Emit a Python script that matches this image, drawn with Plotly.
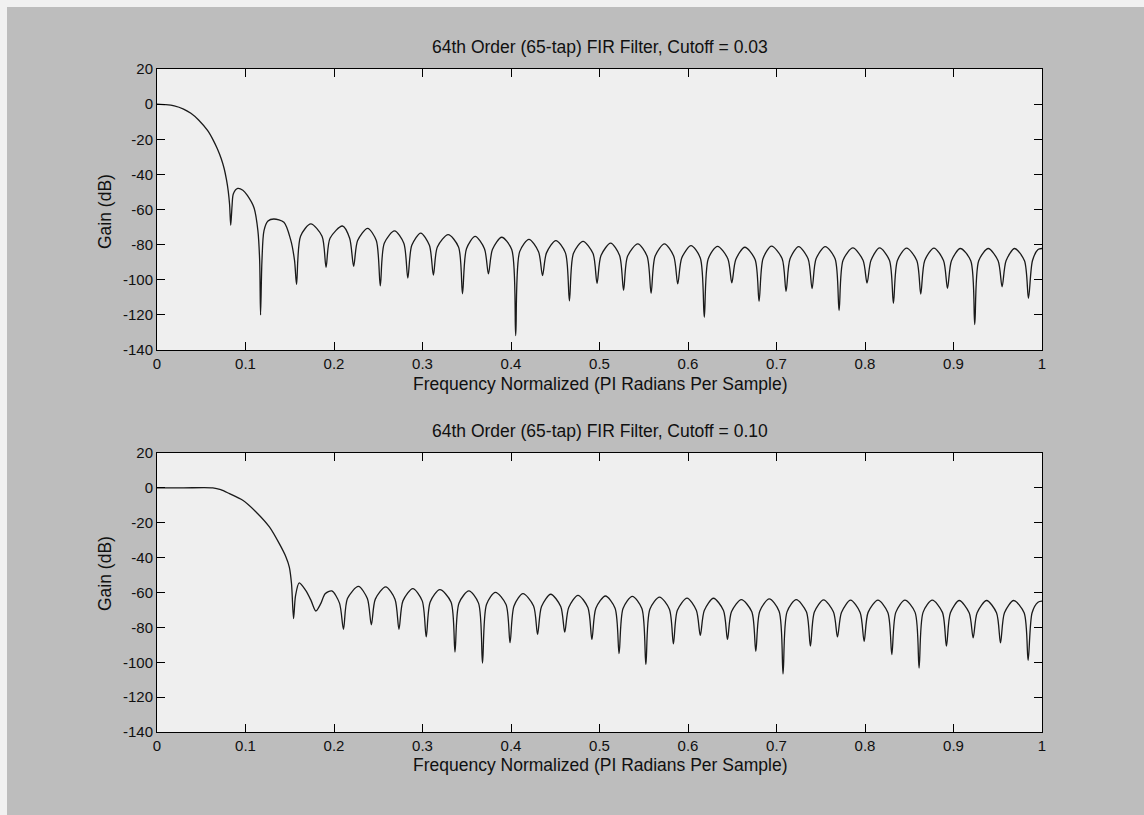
import plotly.graph_objects as go

# ---------------- data ----------------
freq_top = [
    0.0, 0.01, 0.0195, 0.03, 0.0383, 0.047, 0.0571, 0.0635, 0.0683, 0.0725, 0.0758, 0.0785, 0.0805, 0.082, 0.0833,
    0.0848, 0.0863, 0.0912, 0.097, 0.1021, 0.1096, 0.114, 0.116, 0.117,
    0.1186, 0.1209, 0.1254, 0.132, 0.1434, 0.1509, 0.1554, 0.1577,
    0.1622, 0.1738, 0.1865, 0.191,
    0.1955, 0.2095, 0.2177, 0.2222,
    0.2267, 0.238, 0.2478, 0.2523,
    0.2568, 0.2684, 0.2789, 0.2834,
    0.2879, 0.298, 0.3078, 0.3123,
    0.3168, 0.329, 0.3407, 0.3452,
    0.3497, 0.3595, 0.37, 0.3745,
    0.379, 0.3895, 0.4008, 0.4053,
    0.4098, 0.4203, 0.4311, 0.4356,
    0.4401, 0.4507, 0.4615, 0.466,
    0.4705, 0.4814, 0.4927, 0.4972,
    0.5017, 0.5126, 0.5227, 0.5272,
    0.5317, 0.5433, 0.5538, 0.5583,
    0.5628, 0.5734, 0.5839, 0.5884,
    0.5929, 0.6034, 0.6139, 0.6184,
    0.6229, 0.6334, 0.645, 0.6495,
    0.654, 0.6642, 0.6758, 0.6803,
    0.6848, 0.6944, 0.7063, 0.7108,
    0.7153, 0.725, 0.7357, 0.7402,
    0.7447, 0.7551, 0.7662, 0.7707,
    0.7752, 0.7863, 0.7978, 0.8023,
    0.8068, 0.8165, 0.8276, 0.8321,
    0.8366, 0.847, 0.8585, 0.863,
    0.8675, 0.8779, 0.8887, 0.8932,
    0.8977, 0.9077, 0.9195, 0.924,
    0.9285, 0.9393, 0.9504, 0.9549,
    0.9594, 0.9691, 0.9802, 0.9847,
    0.9892, 0.9955, 1.0,
]
gain_top = [
    0.0, -0.3, -1.0, -2.8, -5.2, -9.0, -15.0, -20.5, -25.6, -31.0, -36.5, -43.0, -49.5, -57.0, -69.0,
    -58.0, -51.0, -48.0, -49.0, -52.0, -59.0, -72.0, -89.0, -120.0,
    -89.0, -72.0, -66.6, -65.4, -67.3, -77.0, -89.0, -102.7,
    -75.2, -68.2, -75.2, -92.9,
    -76.4, -69.4, -76.4, -92.3,
    -77.7, -70.7, -77.7, -103.5,
    -79.2, -72.2, -79.2, -99.0,
    -80.4, -73.4, -80.4, -97.3,
    -81.3, -74.3, -81.3, -108.0,
    -82.3, -75.3, -82.3, -96.7,
    -82.8, -75.8, -82.8, -131.8,
    -84.0, -77.0, -84.0, -97.6,
    -84.7, -77.7, -84.7, -112.0,
    -85.1, -78.1, -85.1, -102.0,
    -86.2, -79.2, -86.2, -106.0,
    -86.6, -79.6, -86.6, -107.7,
    -86.6, -79.6, -86.6, -102.4,
    -87.6, -80.6, -87.6, -121.3,
    -88.0, -81.0, -88.0, -101.8,
    -88.5, -81.5, -88.5, -112.3,
    -87.9, -80.9, -87.9, -106.6,
    -88.1, -81.1, -88.1, -105.0,
    -88.1, -81.1, -88.1, -117.6,
    -88.9, -81.9, -88.9, -101.9,
    -88.9, -81.9, -88.9, -113.4,
    -89.0, -82.0, -89.0, -108.1,
    -89.0, -82.0, -89.0, -104.9,
    -89.2, -82.2, -89.2, -125.5,
    -89.2, -82.2, -89.2, -104.0,
    -89.2, -82.2, -89.2, -110.6,
    -89.2, -82.8, -82.2,
]

freq_bot = [
    0.0, 0.03, 0.063, 0.072, 0.0819, 0.0969, 0.1119, 0.127, 0.1382, 0.1457, 0.1495, 0.152, 0.1543,
    0.1565, 0.1607, 0.168, 0.174, 0.1795, 0.185, 0.19, 0.1975, 0.2062, 0.2107,
    0.2152, 0.2276, 0.2377, 0.2422,
    0.2467, 0.2584, 0.2689, 0.2734,
    0.2779, 0.2891, 0.2997, 0.3042,
    0.3087, 0.3196, 0.3322, 0.3367,
    0.3412, 0.3524, 0.3633, 0.3678,
    0.3723, 0.3824, 0.3944, 0.3989,
    0.4034, 0.4135, 0.4255, 0.43,
    0.4345, 0.4449, 0.4562, 0.4607,
    0.4652, 0.4757, 0.4869, 0.4914,
    0.4959, 0.5067, 0.5176, 0.5221,
    0.5266, 0.5371, 0.5479, 0.5524,
    0.5569, 0.5678, 0.579, 0.5835,
    0.588, 0.5989, 0.6094, 0.6139,
    0.6184, 0.6288, 0.6401, 0.6446,
    0.6491, 0.6603, 0.6721, 0.6766,
    0.6811, 0.6918, 0.7029, 0.7074,
    0.7119, 0.7223, 0.7338, 0.7383,
    0.7428, 0.7532, 0.7644, 0.7689,
    0.7734, 0.7837, 0.7945, 0.799,
    0.8035, 0.8146, 0.8258, 0.8303,
    0.8348, 0.8451, 0.8566, 0.8611,
    0.8656, 0.876, 0.8875, 0.892,
    0.8965, 0.9065, 0.9177, 0.9222,
    0.9267, 0.9374, 0.9486, 0.9531,
    0.9576, 0.968, 0.9798, 0.9843,
    0.9888, 0.9955, 1.0,
]
gain_bot = [
    0.0, 0.0, 0.0, -1.0, -3.3, -7.1, -13.8, -22.4, -32.0, -39.6, -45.4, -55.0, -75.0,
    -62.0, -54.5, -58.8, -64.5, -70.6, -66.4, -60.7, -59.1, -66.1, -81.1,
    -63.5, -56.5, -63.5, -78.5,
    -63.8, -56.8, -63.8, -81.1,
    -64.8, -57.8, -64.8, -85.5,
    -65.4, -58.4, -65.4, -94.2,
    -66.1, -59.1, -66.1, -100.5,
    -66.9, -59.9, -66.9, -88.8,
    -67.7, -60.7, -67.7, -84.0,
    -68.0, -61.0, -68.0, -82.7,
    -68.6, -61.6, -68.6, -86.9,
    -69.0, -62.0, -69.0, -95.1,
    -69.2, -62.2, -69.2, -101.4,
    -69.6, -62.6, -69.6, -89.4,
    -70.2, -63.2, -70.2, -84.6,
    -70.3, -63.3, -70.3, -86.9,
    -71.1, -64.1, -71.1, -93.7,
    -70.7, -63.7, -70.7, -106.7,
    -71.1, -64.1, -71.1, -90.8,
    -71.2, -64.2, -71.2, -85.5,
    -71.4, -64.4, -71.4, -88.0,
    -71.4, -64.4, -71.4, -95.6,
    -71.4, -64.4, -71.4, -103.3,
    -71.4, -64.4, -71.4, -90.8,
    -71.6, -64.6, -71.6, -86.0,
    -71.6, -64.6, -71.6, -88.9,
    -71.6, -64.6, -71.6, -98.9,
    -71.6, -65.6, -65.0,
]

titles = ["64th Order (65-tap) FIR Filter, Cutoff = 0.03",
          "64th Order (65-tap) FIR Filter, Cutoff = 0.10"]
x_label = "Frequency Normalized (PI Radians Per Sample)"
y_label = "Gain (dB)"
x_tick_vals = [0, 0.1, 0.2, 0.3, 0.4, 0.5, 0.6, 0.7, 0.8, 0.9, 1]
x_tick_text = ["0", "0.1", "0.2", "0.3", "0.4", "0.5", "0.6", "0.7", "0.8", "0.9", "1"]
y_tick_vals = [20, 0, -20, -40, -60, -80, -100, -120, -140]
y_tick_text = ["20", "0", "-20", "-40", "-60", "-80", "-100", "-120", "-140"]

# ---------------- layout geometry (pixels) ----------------
W, H = 1144, 815
ML, MR, MT, MB = 157, 102, 69, 83
PW, PH = W - ML - MR, H - MT - MB


def px_x(px):
    return (px - ML) / PW


def px_y(py):
    return (H - MB - py) / PH


FONT = "Liberation Sans, Arial, Helvetica, sans-serif"
TXT = "#101010"
LINE = "#1a1a1a"

fig = go.Figure()
fig.add_trace(go.Scatter(x=freq_top, y=gain_top, mode="lines", xaxis="x", yaxis="y",
                         line=dict(color=LINE, width=1.3, shape="spline", smoothing=0.8),
                         showlegend=False, hoverinfo="skip"))
fig.add_trace(go.Scatter(x=freq_bot, y=gain_bot, mode="lines", xaxis="x2", yaxis="y2",
                         line=dict(color=LINE, width=1.3, shape="spline", smoothing=0.8),
                         showlegend=False, hoverinfo="skip"))

xax = dict(range=[0, 1], tickvals=x_tick_vals, ticktext=x_tick_text, ticks="inside",
           ticklen=8, tickwidth=1, tickcolor="black", showline=True, linecolor="black",
           linewidth=1, mirror="ticks", showgrid=False, zeroline=False,
           tickfont=dict(family=FONT, size=15, color=TXT))
yax = dict(range=[-140, 20], tickvals=y_tick_vals, ticktext=y_tick_text, ticks="inside",
           ticklen=8, tickwidth=1, tickcolor="black", showline=True, linecolor="black",
           linewidth=1, mirror="ticks", showgrid=False, zeroline=False,
           tickfont=dict(family=FONT, size=15, color=TXT))

top_dom = [px_y(350), 1.0]
bot_dom = [0.0, px_y(453)]

annotations = []
for t, ty, lx, ly in [(titles[0], 47, 384, 212), (titles[1], 431, 765, 574)]:
    annotations.append(dict(text=t, x=0.5, y=px_y(ty), xref="paper", yref="paper",
                            showarrow=False, xanchor="center", yanchor="middle",
                            font=dict(family=FONT, size=17.5, color=TXT)))
    annotations.append(dict(text=x_label, x=0.5, y=px_y(lx), xref="paper", yref="paper",
                            showarrow=False, xanchor="center", yanchor="middle",
                            font=dict(family=FONT, size=17.5, color=TXT)))
    annotations.append(dict(text=y_label, x=px_x(105), y=px_y(ly), xref="paper", yref="paper",
                            showarrow=False, xanchor="center", yanchor="middle", textangle=-90,
                            font=dict(family=FONT, size=17.5, color=TXT)))

shapes = [
    dict(type="rect", xref="paper", yref="paper", x0=px_x(-5), x1=px_x(W + 5), y0=px_y(7), y1=px_y(-5),
         fillcolor="#f1f1f1", line=dict(width=0), layer="above"),
    dict(type="rect", xref="paper", yref="paper", x0=px_x(-5), x1=px_x(7), y0=px_y(H + 5), y1=px_y(-5),
         fillcolor="#f1f1f1", line=dict(width=0), layer="above"),
]

fig.update_layout(
    width=W, height=H,
    margin=dict(l=ML, r=MR, t=MT, b=MB),
    paper_bgcolor="#bdbdbd", plot_bgcolor="#efefef",
    xaxis=dict(xax, domain=[0, 1], anchor="y"),
    yaxis=dict(yax, domain=top_dom, anchor="x"),
    xaxis2=dict(xax, domain=[0, 1], anchor="y2"),
    yaxis2=dict(yax, domain=bot_dom, anchor="x2"),
    annotations=annotations, shapes=shapes,
    showlegend=False,
)

fig.write_html("out.html", config={"displayModeBar": False})
